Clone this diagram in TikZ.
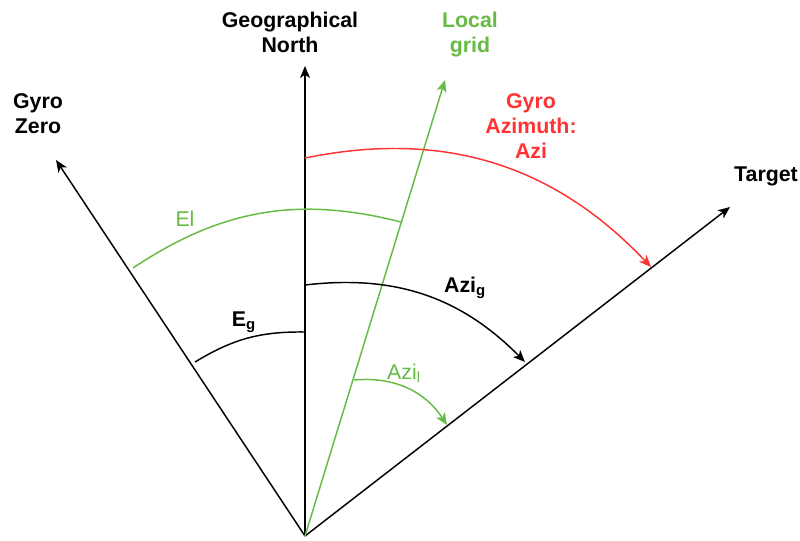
\documentclass[tikz,border=0pt]{standalone}
\usepackage{fontspec}
\setmainfont{Liberation Sans}
\usepackage{xcolor}
\usetikzlibrary{arrows.meta}

\definecolor{gridgreen}{RGB}{102,187,68}
\definecolor{azired}{RGB}{255,51,51}

\begin{document}
\begin{tikzpicture}[x=0.75pt,y=0.75pt,yscale=-1,xscale=1,
	axisline/.style={line width=1.1pt,-{Stealth[length=9pt,width=7.5pt,inset=2.5pt]}},
	arcline/.style={line width=1.1pt},
	arctip/.style={-{Stealth[length=9pt,width=7.5pt,inset=2.5pt]}},
	boldlabel/.style={inner sep=0.75pt,align=center,font=\fontsize{16}{18.75}\selectfont\bfseries},
	thinlabel/.style={inner sep=0.75pt,align=center,font=\fontsize{16}{18.75}\selectfont}]
			\useasboundingbox (0,0) rectangle (800,540);
			
			%Points
			\coordinate (O) at (305,536) ;
			\coordinate (north) at (305,66) ;
			\coordinate (zero) at (56,160) ;
			\coordinate (grid) at (445,80) ;
			\coordinate (target) at (730,207) ;
			
			%Straight Lines
			\draw [axisline]  (O) -- (north) ;
			%Straight Lines
			\draw [axisline]  (O) -- (zero) ;
			%Straight Lines
			\draw [axisline]  (O) -- (target) ;
			%Straight Lines
			\draw [axisline,gridgreen]  (O) -- (grid) ;
			
			%Arc ends
			\coordinate (azi1) at (305,158) ;
			\coordinate (azi2) at (651,267) ;
			\coordinate (el1) at (133,268) ;
			\coordinate (el2) at (401,222) ;
			\coordinate (azig1) at (305,285) ;
			\coordinate (azig2) at (525,362) ;
			\coordinate (eg1) at (195,362) ;
			\coordinate (eg2) at (305,332) ;
			\coordinate (azil1) at (354,380) ;
			\coordinate (azil2) at (447,425) ;
			
			%Curve Lines
			\draw [arcline,arctip,azired]  (azi1) to [bend right=29] (azi2) ;
			%Curve Lines
			\draw [arcline,gridgreen]  (el1) to [bend right=24] (el2) ;
			%Curve Lines
			\draw [arcline,arctip]  (azig1) to [bend right=26] (azig2) ;
			%Curve Lines
			\draw [arcline]  (eg1) to [bend right=16] (eg2) ;
			%Curve Lines
			\draw [arcline,arctip,gridgreen]  (azil1) to [bend right=31] (azil2) ;
			
			% Text Node
			\node [boldlabel,anchor=north] (northlbl) at (290,11) {Geographical\\North};
			% Text Node
			\node [boldlabel,anchor=north,gridgreen] (gridlbl) at (470,11) {Local\\grid};
			% Text Node
			\node [boldlabel,anchor=north] (zerolbl) at (38,92) {Gyro\\Zero};
			% Text Node
			\node [boldlabel,anchor=north,azired] (azilbl) at (531,92) {Gyro\\Azimuth:\\Azi};
			% Text Node
			\node [boldlabel,anchor=north] (targetlbl) at (766,166) {Target};
			% Text Node
			\node [thinlabel,gridgreen] (ellbl) at (185,219) {El};
			% Text Node
			\node [boldlabel] (eglbl) at (244,322) {E\textsubscript{g}};
			% Text Node
			\node [boldlabel] (aziglbl) at (465,288) {Azi\textsubscript{g}};
			% Text Node
			\node [thinlabel,gridgreen] (azillbl) at (404,373) {Azi\textsubscript{l}};
\end{tikzpicture}
\end{document}
